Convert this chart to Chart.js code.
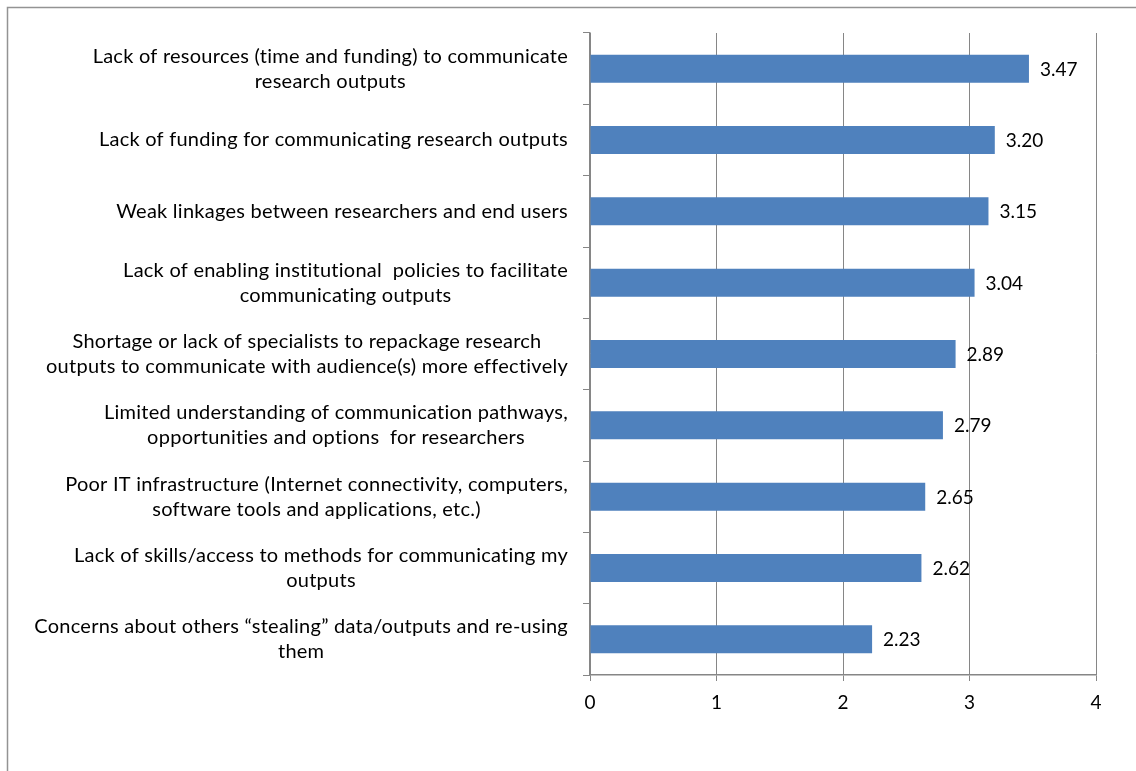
<!DOCTYPE html>
<html>
<head>
<meta charset="utf-8">
<script src="https://cdn.jsdelivr.net/npm/chart.js@4/dist/chart.umd.min.js"></script>
<style>
  html, body { margin: 0; padding: 0; background: #fff; }
  #wrap { width: 1136px; height: 771px; }
</style>
</head>
<body>
<div id="wrap"><canvas id="barChart" width="1136" height="771"></canvas></div>
<script>
// Barriers to communicating research outputs (mean scores)
const BARRIERS = [
    ['Lack of resources (time and funding) to communicate', 'research outputs'],
    ['Lack of funding for communicating research outputs'],
    ['Weak linkages between researchers and end users'],
    ['Lack of enabling institutional  policies to facilitate', 'communicating outputs'],
    ['Shortage or lack of specialists to repackage research', 'outputs to communicate with audience(s) more effectively'],
    ['Limited understanding of communication pathways,', 'opportunities and options  for researchers'],
    ['Poor IT infrastructure (Internet connectivity, computers,', 'software tools and applications, etc.)'],
    ['Lack of skills/access to methods for communicating my', 'outputs'],
    ['Concerns about others \u201cstealing\u201d data/outputs and re-using', 'them']
];
const SCORES = [3.47, 3.20, 3.15, 3.04, 2.89, 2.79, 2.65, 2.62, 2.23];
const X_TICKS = [0, 1, 2, 3, 4];

const FONT = 'Lato';
const LABEL_SIZE = 20;
const VALUE_SIZE = 19;
const LINE_GAP = 25;

// outer frame (top and left edge only)
const framePlugin = {
    id: 'frame',
    beforeDraw(chart) {
        const ctx = chart.ctx;
        ctx.save();
        ctx.strokeStyle = '#939393';
        ctx.lineWidth = 1.5;
        ctx.beginPath();
        ctx.moveTo(7.5, chart.height);
        ctx.lineTo(7.5, 7.5);
        ctx.lineTo(chart.width, 7.5);
        ctx.stroke();
        ctx.restore();
    }
};

// category labels: block right-aligned to the axis, lines centred inside the block
const categoryLabels = {
    id: 'categoryLabels',
    afterDraw(chart) {
        const ctx = chart.ctx;
        const yScale = chart.scales.y;
        const right = yScale.right - 7 - 15;
        ctx.save();
        ctx.font = LABEL_SIZE + 'px ' + FONT;
        ctx.letterSpacing = '0.25px';
        ctx.fillStyle = '#000';
        ctx.textAlign = 'center';
        ctx.textBaseline = 'middle';
        BARRIERS.forEach((lines, i) => {
            const y = yScale.getPixelForValue(i);
            const w = Math.max(...lines.map(l => ctx.measureText(l).width));
            const cx = right - w / 2;
            const y0 = y - (lines.length - 1) * LINE_GAP / 2;
            lines.forEach((l, j) => ctx.fillText(l, cx, y0 + j * LINE_GAP));
        });
        ctx.restore();
    }
};

// value printed to the right of each bar
const valueLabels = {
    id: 'valueLabels',
    afterDatasetsDraw(chart) {
        const ctx = chart.ctx;
        const meta = chart.getDatasetMeta(0);
        ctx.save();
        ctx.font = VALUE_SIZE + 'px ' + FONT;
        ctx.fillStyle = '#000';
        ctx.textAlign = 'left';
        ctx.textBaseline = 'middle';
        meta.data.forEach((bar, i) => {
            ctx.fillText(SCORES[i].toFixed(2), bar.x + 11, bar.y + 1);
        });
        ctx.restore();
    }
};

const bar = document.getElementById('barChart');

const barChart = new Chart(bar, {
    type: 'bar',
    data: {
        labels: BARRIERS.map(l => l.join(' ')),
        datasets: [{
            data: SCORES,
            backgroundColor: '#4F81BD',
            borderColor: '#4F81BD',
            borderWidth: 0,
            barPercentage: 0.392,
            categoryPercentage: 1
        }]
    },
    options: {
        indexAxis: 'y',
        responsive: false,
        animation: false,
        layout: {
            padding: { left: 583, right: 40, top: 33, bottom: 0 }
        },
        plugins: {
            legend: { display: false },
            tooltip: { enabled: false }
        },
        scales: {
            x: {
                min: 0,
                max: 4,
                afterBuildTicks(scale) {
                    scale.ticks = X_TICKS.map(v => ({ value: v }));
                },
                afterFit(scale) { scale.height = 96; },
                grid: {
                    color: '#868686',
                    lineWidth: 1,
                    tickLength: 6
                },
                border: { color: '#868686', width: 1.5 },
                ticks: {
                    color: '#000',
                    padding: 10,
                    font: { family: FONT, size: VALUE_SIZE }
                }
            },
            y: {
                afterFit(scale) { scale.width = 7; },
                grid: {
                    display: true,
                    drawOnChartArea: false,
                    offset: true,
                    color: '#868686',
                    tickLength: 7
                },
                border: { color: '#868686', width: 1.5 },
                ticks: { display: false }
            }
        }
    },
    plugins: [framePlugin, categoryLabels, valueLabels]
});
</script>
</body>
</html>
